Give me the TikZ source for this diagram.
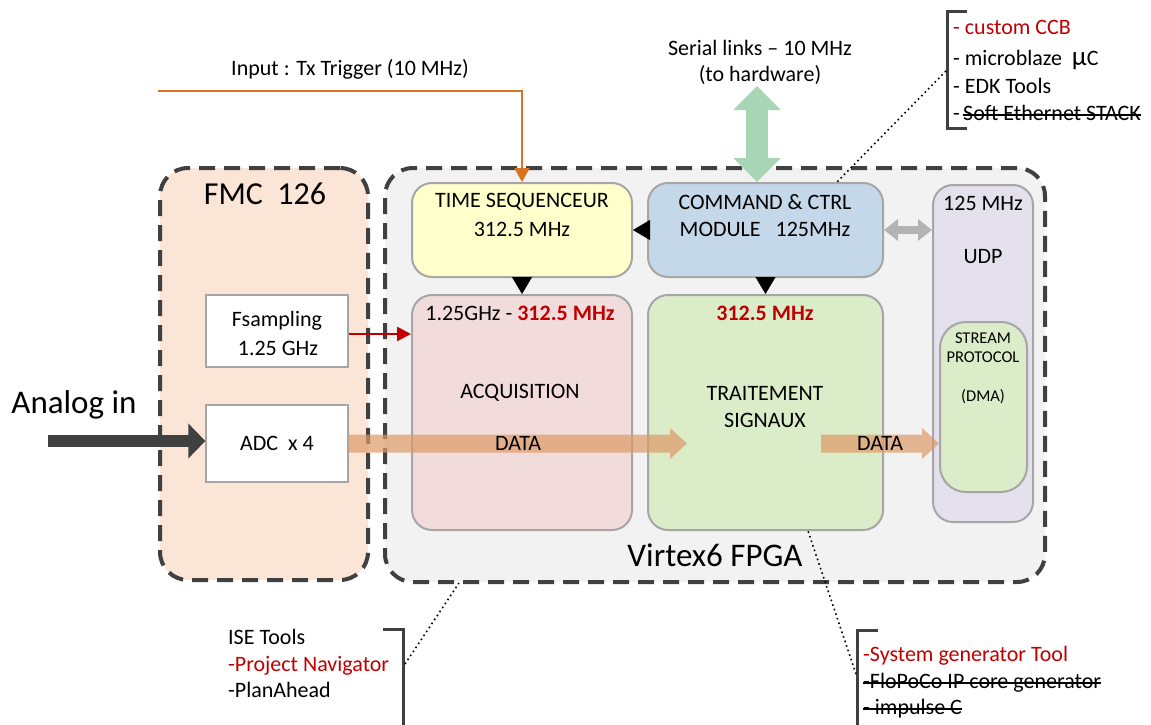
\documentclass[tikz,border=0pt]{standalone}
\usepackage{fontspec}
\setmainfont{Carlito}
\usetikzlibrary{arrows.meta}
\definecolor{dashgray}{HTML}{404040}
\definecolor{boxgray}{HTML}{A6A6A6}
\definecolor{fmcfill}{HTML}{FBE5D6}
\definecolor{fpgafill}{HTML}{F2F2F2}
\definecolor{tsfill}{HTML}{FFFFCC}
\definecolor{cmdfill}{HTML}{C5D8E9}
\definecolor{acqfill}{HTML}{F2DCDB}
\definecolor{trfill}{HTML}{DAEDC8}
\definecolor{udpfill}{HTML}{E4E0EC}
\definecolor{darkred}{HTML}{C00000}
\definecolor{trigorange}{HTML}{D9731F}
\definecolor{dataorange}{HTML}{DE9A68}
\definecolor{serialgreen}{HTML}{A8D6B5}
\definecolor{linkgray}{HTML}{B3B3B3}
\tikzset{
  big/.style={font=\fontsize{22}{26}\selectfont},
  small/.style={font=\fontsize{16.5}{19}\selectfont},
  dashbox/.style={draw=dashgray, line width=4pt, dash pattern=on 16pt off 9pt, rounded corners=28pt},
  blockbox/.style={draw=boxgray, line width=2pt, rounded corners=20pt, inner sep=0pt},
  plainbox/.style={draw=boxgray, line width=1.3pt, fill=white, inner sep=0pt, big, align=center},
  txt/.style={big, inner sep=0pt},
  listtxt/.style={big, inner sep=0pt, anchor=west, text height=16pt, text depth=5pt},
  bracket/.style={draw=dashgray, line width=3pt},
  dots/.style={draw=black, line width=1.6pt, dash pattern=on 1.6pt off 3.2pt},
  strike/.style={draw=black, line width=1.6pt},
  blacktri/.style={line width=0.4pt, -{Triangle[width=20pt,length=17pt]}},
}
\begin{document}
\begin{tikzpicture}[x=1pt,y=-1pt]
\useasboundingbox (0,0) rectangle (1151,725);
% containers
\node[dashbox, fill=fmcfill, minimum width=208pt, minimum height=412pt] (fmc) at (264,374) {};
\node[dashbox, fill=fpgafill, minimum width=660pt, minimum height=414pt] (fpga) at (715,375) {};
\node[font=\fontsize{32}{36}\selectfont, inner sep=0pt] (fmctxt) at (265,194) {FMC\ \ 126};
\node[font=\fontsize{33}{36}\selectfont, inner sep=0pt] (fpgatxt) at (715,555) {Virtex6 FPGA};
% blocks
\node[blockbox, fill=tsfill, minimum width=220pt, minimum height=94pt] (ts) at (522,230) {};
\node[blockbox, fill=cmdfill, minimum width=235pt, minimum height=94pt] (cmd) at (765.5,230) {};
\node[blockbox, fill=acqfill, minimum width=220pt, minimum height=235pt] (acq) at (522,412.5) {};
\node[blockbox, fill=trfill, minimum width=235pt, minimum height=235pt] (trait) at (765.5,412.5) {};
\node[blockbox, fill=udpfill, minimum width=100pt, minimum height=337pt] (udp) at (983,353.5) {};
\node[blockbox, fill=trfill, rounded corners=26pt, minimum width=87pt, minimum height=170pt] (stream) at (983.5,407) {};
\node[draw=boxgray, line width=1.3pt, fill=white, minimum width=142pt, minimum height=72pt] (fs) at (277,331) {};
\node[txt] (fs1) at (277,321) {Fsampling};
\node[txt] (fs2) at (278,348) {1.25 GHz};
\node[plainbox, minimum width=142pt, minimum height=77pt] (adc) at (277,443.5) {ADC\ \ x 4};
% block texts
\node[txt] (ts1) at (522,202) {TIME SEQUENCEUR};
\node[txt] (ts2) at (522,229) {312.5 MHz};
\node[txt] (cmd1) at (765,202) {COMMAND \& CTRL};
\node[txt] (cmd2) at (765,229) {MODULE\ \ \ 125MHz};
\node[txt] (udp1) at (983,203) {125 MHz};
\node[txt] (udp2) at (983,257) {UDP};
\node[small, inner sep=0pt] (st1) at (983,338) {STREAM};
\node[small, inner sep=0pt] (st2) at (983,357) {PROTOCOL};
\node[small, inner sep=0pt] (st3) at (983,397) {(DMA)};
\node[txt] (acq1) at (520,313) {1.25GHz - \textcolor{darkred}{\textbf{312.5 MHz}}};
\node[txt] (acq2) at (520,393) {ACQUISITION};
\node[txt, text=darkred, font=\fontsize{22}{26}\selectfont\bfseries] (tr1) at (765,313) {312.5 MHz};
\node[txt] (tr2) at (765,393) {TRAITEMENT};
\node[txt] (tr3) at (765,420) {SIGNAUX};
% analog in
\node[font=\fontsize{33}{38}\selectfont, inner sep=0pt] (analog) at (74,405) {Analog in};
\coordinate (ain) at (48,441);
\draw[dashgray, line width=12pt, -{Triangle[width=34pt,length=17pt]}] (ain) -- (adc.west |- ain);
% fsampling arrow
\draw[darkred, line width=2.6pt, -{Triangle[width=14pt,length=14pt]}] (fs.east |- 0,334) -- (acq.west |- 0,334);
% data arrows
\begin{scope}[transparency group, opacity=0.7]
\draw[dataorange, line width=18pt, -{Triangle[width=30pt,length=17pt]}] (adc.east) -- ([xshift=40pt]trait.west |- adc.east);
\end{scope}
\begin{scope}[transparency group, opacity=0.7]
\draw[dataorange, line width=18pt, -{Triangle[width=30pt,length=17pt]}] ([xshift=-63pt]trait.east |- adc.east) -- (stream.west |- adc.east);
\end{scope}
\node[txt] (data1) at (518,443) {DATA};
\node[txt] (data2) at (880,443) {DATA};
% internal arrows
\draw[blacktri] (ts.south) -- (acq.north);
\draw[blacktri] (cmd.south) -- (trait.north);
\draw[blacktri] (cmd.west) -- (ts.east);
\draw[linkgray, line width=8pt, {Triangle[width=21pt,length=14pt]}-{Triangle[width=21pt,length=14pt]}] (cmd.east) -- (cmd.east -| udp.west);
% trigger
\node[txt] (trigtxt) at (350,69) {Input : Tx Trigger (10 MHz)};
\coordinate (trigstart) at (158,91);
\draw[trigorange, line width=2.6pt, -{Triangle[width=15pt,length=14pt]}] (trigstart) -- (ts.north |- trigstart) -- (ts.north);
% serial links
\node[txt] (ser1) at (760,48) {Serial links -- 10 MHz};
\node[txt] (ser2) at (760,75) {(to hardware)};
\coordinate (sertop) at (757,86);
\draw[serialgreen, line width=22pt, {Triangle[width=46pt,length=24pt]}-{Triangle[width=46pt,length=24pt]}] (sertop) -- (sertop |- cmd.north);
% top-right bracket
\draw[bracket] (967,12) -- (947,12) -- (947,128) -- (967,128);
\node[listtxt, text=darkred] (l1) at (953,29) {- custom CCB};
\node[listtxt] (l2) at (953,60) {- microblaze\ \ {\fontsize{27}{27}\selectfont μ}C};
\node[listtxt] (l3) at (953,88) {- EDK Tools};
\node[listtxt] (l4) at (953,115) {-};
\node[listtxt] (l4s) at (963,115) {Soft Ethernet STACK};
\draw[strike] (l4s.west) -- (l4s.east);
\coordinate (brtr) at (946,71);
\draw[dots] (brtr) -- (836,183);
% bottom-left bracket
\draw[bracket] (383,629) -- (403,629) -- (403,726);
\node[listtxt] (b1) at (228,639) {ISE Tools};
\node[listtxt, text=darkred] (b2) at (228,666) {-Project Navigator};
\node[listtxt] (b3) at (228,692) {-PlanAhead};
\coordinate (brbl) at (405,664);
\draw[dots] (brbl) -- (459,583);
% bottom-right bracket
\draw[bracket] (878,630) -- (857,630) -- (857,726);
\node[listtxt, text=darkred] (c1) at (863,656) {-System generator Tool};
\node[listtxt] (c2) at (863,683) {-FloPoCo IP core generator};
\node[listtxt] (c3) at (863,709) {- impulse C};
\draw[strike] (c2.west) -- (c2.east);
\draw[strike] (c3.west) -- (c3.east);
\coordinate (brbr) at (856,674);
\draw[dots] (brbr) -- (trait.south -| 808,0);
\end{tikzpicture}
\end{document}
